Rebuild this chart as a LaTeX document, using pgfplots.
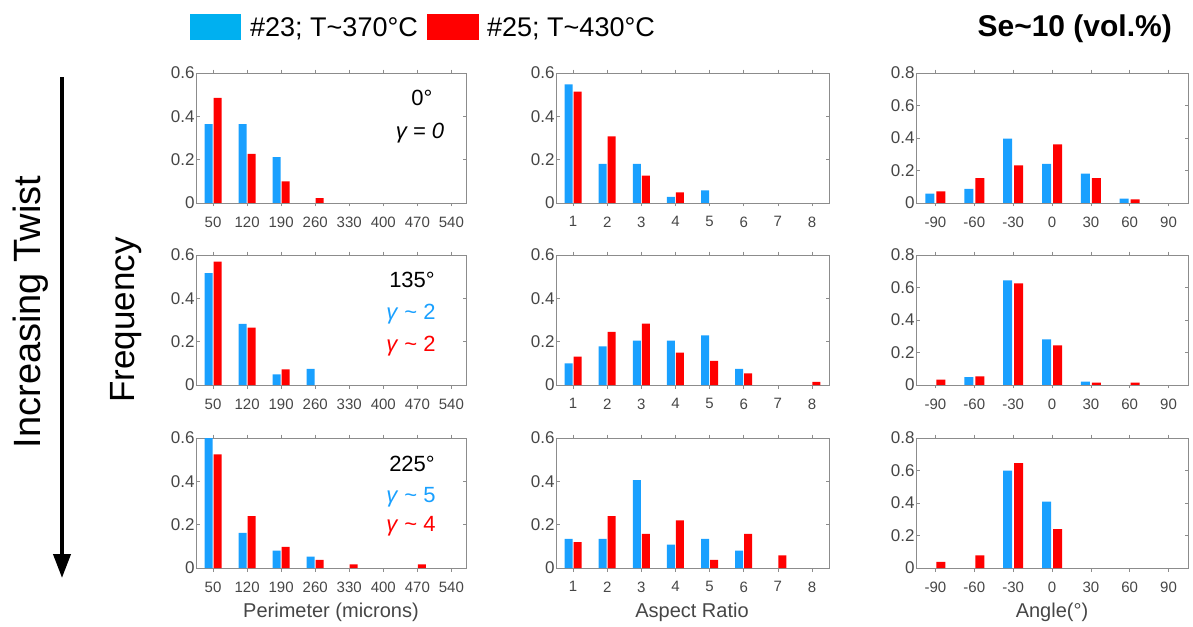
\documentclass[border=0pt]{standalone}
\usepackage{fontspec}
\setmainfont{Liberation Sans}
\usepackage{pgfplots}
\pgfplotsset{compat=1.18}
\usetikzlibrary{arrows.meta}
\definecolor{cblue}{RGB}{25,160,255}
\definecolor{cred}{RGB}{255,0,0}
\definecolor{legblue}{RGB}{0,176,240}
\definecolor{axgray}{RGB}{140,140,140}
\definecolor{lblgray}{RGB}{70,70,70}
\newcommand{\fs}[1]{\fontsize{#1}{#1}\selectfont}
\pgfplotsset{
  panel/.style={
    scale only axis, height=130pt, anchor=north west,
    ymin=0,
    axis line style={draw=axgray, line width=0.8pt},
    every tick/.style={draw=axgray, line width=0.6pt},
    tick align=inside, major tick length=3.5pt,
    xticklabel style={font=\fs{15}, text=lblgray, yshift=-6.5pt},
    yticklabel style={font=\fs{17}, text=lblgray, xshift=2pt},
    ybar=1pt, bar width=8pt,
  },
  c1/.style={panel, width=270pt, xmin=15, xmax=570,
    xtick={50,120,190,260,330,400,470,540},
    xticklabels={50,120,190,260,330,400,470,540},
    ymax=0.6, ytick={0,0.2,0.4,0.6}, yticklabels={0,0.2,0.4,0.6}},
  c2/.style={panel, width=273pt, xmin=0.5, xmax=8.5,
    xtick={1,2,3,4,5,6,7,8}, xticklabels={1,2,3,4,5,6,7,8},
    ymax=0.6, ytick={0,0.2,0.4,0.6}, yticklabels={0,0.2,0.4,0.6}},
  c3/.style={panel, width=272pt, xmin=-105, xmax=105, ybar=2pt, bar width=9pt,
    xtick={-90,-60,-30,0,30,60,90}, xticklabels={-90,-60,-30,0,30,60,90},
    ymax=0.8, ytick={0,0.2,0.4,0.6,0.8}, yticklabels={0,0.2,0.4,0.6,0.8}},
  sb/.style={fill=cblue, draw=none},
  sr/.style={fill=cred, draw=none},
}
\begin{document}
\begin{tikzpicture}[x=1pt,y=1pt]
\path[use as bounding box] (0,0) rectangle (1193,-626);

% ---------- row 1 ----------
\begin{axis}[c1, at={(196pt,-73pt)}]
\addplot[sb] coordinates {(50,0.364) (120,0.364) (190,0.212)};
\addplot[sr] coordinates {(50,0.485) (120,0.227) (190,0.1) (260,0.023)};
\end{axis}
\begin{axis}[c2, at={(556pt,-73pt)}]
\addplot[sb] coordinates {(1,0.548) (2,0.18) (3,0.18) (4,0.028) (5,0.058)};
\addplot[sr] coordinates {(1,0.514) (2,0.307) (3,0.126) (4,0.049)};
\end{axis}
\begin{axis}[c3, at={(916pt,-73pt)}]
\addplot[sb] coordinates {(-90,0.058) (-60,0.087) (-30,0.396) (0,0.241) (30,0.181) (60,0.027)};
\addplot[sr] coordinates {(-90,0.072) (-60,0.153) (-30,0.231) (0,0.361) (30,0.153) (60,0.023)};
\end{axis}

% ---------- row 2 ----------
\begin{axis}[c1, at={(196pt,-255pt)}]
\addplot[sb] coordinates {(50,0.516) (120,0.282) (190,0.049) (260,0.074)};
\addplot[sr] coordinates {(50,0.569) (120,0.265) (190,0.072)};
\end{axis}
\begin{axis}[c2, at={(556pt,-255pt)}]
\addplot[sb] coordinates {(1,0.1) (2,0.178) (3,0.205) (4,0.205) (5,0.229) (6,0.074)};
\addplot[sr] coordinates {(1,0.131) (2,0.245) (3,0.283) (4,0.149) (5,0.111) (6,0.054) (8,0.015)};
\end{axis}
\begin{axis}[c3, at={(916pt,-255pt)}]
\addplot[sb] coordinates {(-60,0.049) (-30,0.644) (0,0.281) (30,0.02)};
\addplot[sr] coordinates {(-90,0.033) (-60,0.053) (-30,0.626) (0,0.244) (30,0.014) (60,0.014)};
\end{axis}

% ---------- row 3 ----------
\begin{axis}[c1, at={(196pt,-438pt)}]
\addplot[sb] coordinates {(50,0.6) (120,0.162) (190,0.08) (260,0.052)};
\addplot[sr] coordinates {(50,0.525) (120,0.24) (190,0.098) (260,0.038) (330,0.017) (470,0.017)};
\end{axis}
\begin{axis}[c2, at={(556pt,-438pt)}]
\addplot[sb] coordinates {(1,0.135) (2,0.135) (3,0.406) (4,0.108) (5,0.135) (6,0.08)};
\addplot[sr] coordinates {(1,0.12) (2,0.24) (3,0.158) (4,0.22) (5,0.037) (6,0.158) (7,0.058)};
\end{axis}
\begin{axis}[c3, at={(916pt,-438pt)}]
\addplot[sb] coordinates {(-30,0.599) (0,0.408)};
\addplot[sr] coordinates {(-90,0.037) (-60,0.078) (-30,0.646) (0,0.24)};
\end{axis}

% ---------- annotations ----------
\node[anchor=base, font=\fs{22}] at (422,-105) {0°};
\node[anchor=base, font=\fs{22}\itshape] at (420,-138) {γ = 0};
\node[anchor=base, font=\fs{22}] at (412,-287) {135°};
\node[anchor=base, font=\fs{22}, text=cblue] at (411,-319) {\textit{γ} \textasciitilde{} 2};
\node[anchor=base, font=\fs{22}, text=cred] at (411,-351) {\textit{γ} \textasciitilde{} 2};
\node[anchor=base, font=\fs{22}] at (412,-471) {225°};
\node[anchor=base, font=\fs{22}, text=cblue] at (411,-502) {\textit{γ} \textasciitilde{} 5};
\node[anchor=base, font=\fs{22}, text=cred] at (411,-531) {\textit{γ} \textasciitilde{} 4};

% ---------- axis labels ----------
\node[anchor=base, font=\fs{20}, text=lblgray] at (331,-617) {Perimeter (microns)};
\node[anchor=base, font=\fs{20}, text=lblgray] at (692,-617) {Aspect Ratio};
\node[anchor=base, font=\fs{20}, text=lblgray] at (1052,-617) {Angle(°)};
\node[anchor=base, rotate=90, font=\fs{35}] at (134,-320) {Frequency};
\node[anchor=base, rotate=90, font=\fs{38}] at (40,-312) {Increasing Twist};
\draw[line width=4pt, -{Triangle[width=17pt,length=24pt]}] (62,-77) -- (62,-578);

% ---------- legend & title ----------
\fill[legblue] (190,-14) rectangle (241,-40);
\node[anchor=base west, font=\fs{27}, inner sep=0pt] at (250,-37) {\#23; T\textasciitilde370°C};
\fill[cred] (427,-14) rectangle (479,-40);
\node[anchor=base west, font=\fs{27}, inner sep=0pt] at (487,-37) {\#25; T\textasciitilde430°C};
\node[anchor=base east, font=\fs{30}\bfseries, inner sep=0pt] at (1172,-37) {Se\textasciitilde10 (vol.\%)};
\end{tikzpicture}
\end{document}
